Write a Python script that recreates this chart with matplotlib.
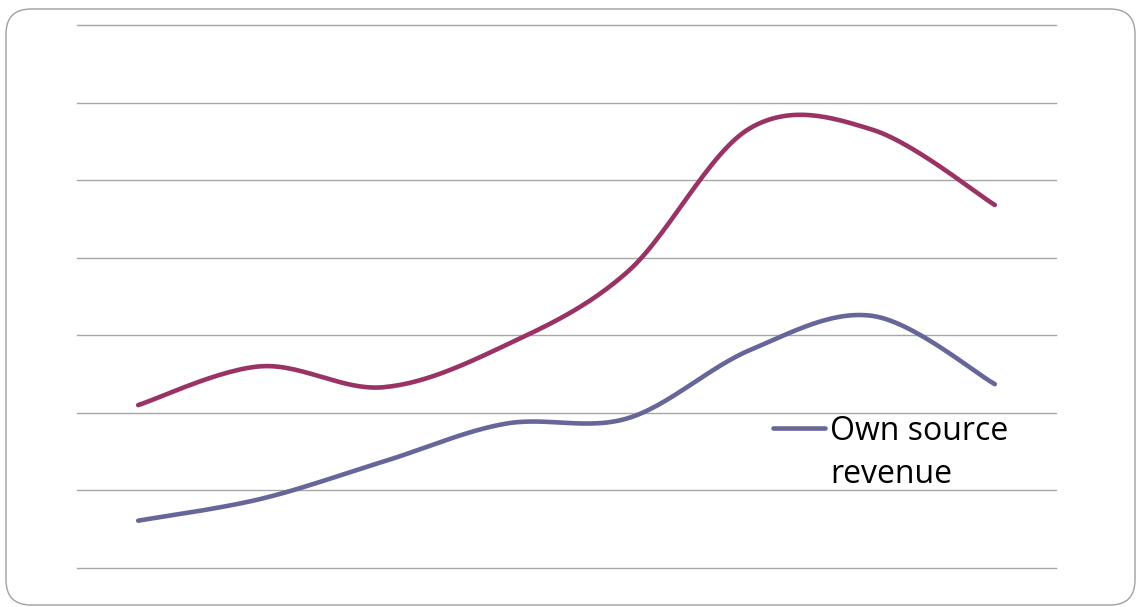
import numpy as np
import matplotlib.pyplot as plt
from matplotlib.patches import FancyBboxPatch
from matplotlib.lines import Line2D

# eight periods, no labels shown on the chart
periods = list(range(8))
other_series = [2.10, 2.60, 2.33, 2.87, 3.82, 5.67, 5.65, 4.68]
own_source_revenue = [0.61, 0.89, 1.37, 1.86, 1.93, 2.81, 3.25, 2.37]

red = '#993366'
blue = '#666699'


def smooth(x, y, n=30):
    # excel-like smoothed line: bezier through points, catmull-rom tangents
    x = np.asarray(x, float)
    y = np.asarray(y, float)
    px = np.concatenate([[x[0]], x, [x[-1]]])
    py = np.concatenate([[y[0]], y, [y[-1]]])
    xs, ys = [], []
    t = np.linspace(0, 1, n)
    for i in range(1, len(px) - 2):
        p0 = np.array([px[i], py[i]])
        p3 = np.array([px[i + 1], py[i + 1]])
        p1 = p0 + (np.array([px[i + 1], py[i + 1]]) - np.array([px[i - 1], py[i - 1]])) / 6
        p2 = p3 - (np.array([px[i + 2], py[i + 2]]) - np.array([px[i], py[i]])) / 6
        b = ((1 - t) ** 3)[:, None] * p0 + (3 * (1 - t) ** 2 * t)[:, None] * p1 \
            + (3 * (1 - t) * t ** 2)[:, None] * p2 + (t ** 3)[:, None] * p3
        xs.extend(b[:, 0])
        ys.extend(b[:, 1])
    return xs, ys


fig = plt.figure(figsize=(11.41, 6.07), dpi=100)
W, H = 1141, 607

# rounded frame, in inches
box = FancyBboxPatch((0.06, 0.02), 11.29, 5.96,
                     boxstyle='round,pad=0,rounding_size=0.25',
                     transform=fig.dpi_scale_trans, facecolor='none',
                     edgecolor='#a0a0a0', linewidth=1, zorder=-1)
fig.patches.append(box)

ax = fig.add_axes([77 / W, 1 - 568 / H, 979 / W, 543 / H])
ax.set_facecolor('none')
ax.set_xlim(-0.5, 7.5)
ax.set_ylim(0, 7)
ax.set_yticks(range(8))
ax.grid(axis='y', color='#a6a6a6', linewidth=1)
for gl in ax.get_ygridlines():
    gl.set_clip_on(False)
ax.tick_params(left=False, bottom=False, labelleft=False, labelbottom=False)
for s in ax.spines.values():
    s.set_visible(False)

sx, sy = smooth(periods, other_series)
ax.plot(sx, sy, color=red, linewidth=3.3, solid_capstyle='round')
sx, sy = smooth(periods, own_source_revenue)
ax.plot(sx, sy, color=blue, linewidth=3.3, solid_capstyle='round')

# legend (only this entry is visible)
fig.add_artist(Line2D([773 / W, 825 / W], [1 - 428 / H, 1 - 428 / H],
                      color=blue, linewidth=3.3, solid_capstyle='round'))
fig.text(830 / W, 1 - 440 / H, 'Own source', fontsize=23, family='Open Sans',
         va='baseline', ha='left')
fig.text(830 / W, 1 - 483 / H, 'revenue', fontsize=23, family='Open Sans',
         va='baseline', ha='left')

fig.savefig('out.png', dpi=100)
